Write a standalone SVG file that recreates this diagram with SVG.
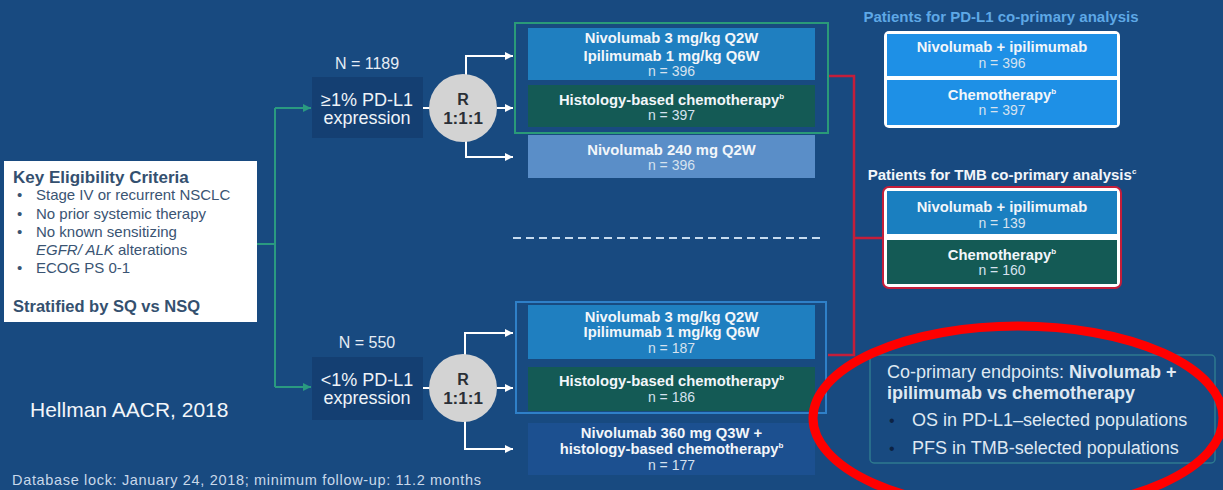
<svg xmlns="http://www.w3.org/2000/svg" width="1223" height="490" viewBox="0 0 1223 490">
<defs>
<style>
.bg{fill:#184a80}
.lt{font-family:"Liberation Sans",Arial,sans-serif}
.crit{font-family:"Liberation Sans",Arial,sans-serif;fill:#3a5473;font-size:15px}
.critb{font-family:"Liberation Sans",Arial,sans-serif;fill:#34506f;font-weight:bold}
.bx{font-family:"Liberation Sans",Arial,sans-serif;fill:#f2f6fa;font-size:14.8px;font-weight:bold;text-anchor:middle}
.bn{font-family:"Liberation Sans",Arial,sans-serif;fill:#d6e2ef;font-size:14px;text-anchor:middle}
.rb{font-family:"Liberation Sans",Arial,sans-serif;fill:#2a2f36;font-weight:bold;text-anchor:middle}
.wl{fill:none;stroke:#ffffff;stroke-width:2}
.gl{fill:none;stroke:#2a9a80;stroke-width:2}
.rl{fill:none;stroke:#c41e3a;stroke-width:2.5}
.pd{fill:#143f72}
.sup{font-size:8px}
</style>
<marker id="aw" viewBox="0 0 8 8" refX="8" refY="4" markerWidth="8" markerHeight="8" markerUnits="userSpaceOnUse" orient="auto">
<path d="M0,0 L8,4 L0,8 z" fill="#ffffff"/>
</marker>
<marker id="ag" viewBox="0 0 8 8" refX="8" refY="4" markerWidth="8" markerHeight="8" markerUnits="userSpaceOnUse" orient="auto">
<path d="M0,0 L8,4 L0,8 z" fill="#2a9a80"/>
</marker>
</defs>
<rect class="bg" x="0" y="0" width="1223" height="490"/>

<g id="connectors">
<path class="gl" d="M257,244 H275"/>
<path class="gl" d="M275,108 V387"/>
<path class="gl" d="M275,108 H311" marker-end="url(#ag)"/>
<path class="gl" d="M275,387 H311" marker-end="url(#ag)"/>
<path class="wl" d="M423,108 H430"/>
<path class="wl" d="M423,388 H430"/>
<path class="wl" d="M466,75 V56 H513" marker-end="url(#aw)"/>
<path class="wl" d="M497,108 H513" marker-end="url(#aw)"/>
<path class="wl" d="M466,141 V157 H513" marker-end="url(#aw)"/>
<path class="wl" d="M465,355 V333 H513" marker-end="url(#aw)"/>
<path class="wl" d="M497,388 H513" marker-end="url(#aw)"/>
<path class="wl" d="M465,421 V449 H513" marker-end="url(#aw)"/>
<path class="rl" d="M828,76 H854 V355 H828"/>
<path class="rl" d="M854,238 H883"/>
<path d="M513,238 H823" fill="none" stroke="#c6dbef" stroke-width="2" stroke-dasharray="8 5"/>
</g>

<g id="criteria">
<rect x="4" y="161" width="253" height="161" fill="#ffffff"/>
<text class="critb" x="13" y="183" font-size="17">Key Eligibility Criteria</text>
<text class="crit" x="17" y="200">•</text>
<text class="crit" x="36" y="200">Stage IV or recurrent NSCLC</text>
<text class="crit" x="17" y="219">•</text>
<text class="crit" x="36" y="219">No prior systemic therapy</text>
<text class="crit" x="17" y="237">•</text>
<text class="crit" x="36" y="237">No known sensitizing</text>
<text class="crit" x="36" y="255"><tspan font-style="italic">EGFR/ ALK</tspan> alterations</text>
<text class="crit" x="17" y="273">•</text>
<text class="crit" x="36" y="273">ECOG PS 0-1</text>
<text class="critb" x="13" y="312" font-size="16.5">Stratified by SQ vs NSQ</text>
</g>

<g id="pdl1-high">
<text class="lt" x="367" y="69" font-size="16" fill="#e6edf5" text-anchor="middle">N = 1189</text>
<rect class="pd" x="312" y="77" width="111" height="61"/>
<text class="lt" x="367" y="106" font-size="18" fill="#eef3f8" text-anchor="middle">≥1% PD-L1</text>
<text class="lt" x="367" y="124" font-size="18" fill="#eef3f8" text-anchor="middle">expression</text>
</g>

<g id="rand-high">
<circle cx="463" cy="108" r="34" fill="#d3d3d3"/>
<text class="rb" x="463" y="105" font-size="16">R</text>
<text class="rb" x="463" y="124" font-size="17">1:1:1</text>
</g>

<g id="pdl1-low">
<text class="lt" x="367" y="348" font-size="16" fill="#e6edf5" text-anchor="middle">N = 550</text>
<rect class="pd" x="312" y="357" width="111" height="63"/>
<text class="lt" x="367" y="386" font-size="18" fill="#eef3f8" text-anchor="middle">&lt;1% PD-L1</text>
<text class="lt" x="367" y="404" font-size="18" fill="#eef3f8" text-anchor="middle">expression</text>
</g>

<g id="rand-low">
<circle cx="463" cy="388" r="34" fill="#d3d3d3"/>
<text class="rb" x="463" y="385" font-size="16">R</text>
<text class="rb" x="463" y="404" font-size="17">1:1:1</text>
</g>

<g id="group-high">
<rect x="515" y="23" width="313" height="110" fill="none" stroke="#2a9a78" stroke-width="2"/>
</g>
<g id="arm-high-nivoipi">
<rect x="528" y="28" width="287" height="52" fill="#1f7fc0"/>
<text class="bx" x="671.5" y="43">Nivolumab 3 mg/kg Q2W</text>
<text class="bx" x="671.5" y="61">Ipilimumab 1 mg/kg Q6W</text>
<text class="bn" x="671.5" y="76">n = 396</text>
</g>
<g id="arm-high-chemo">
<rect x="528" y="85" width="287" height="42" fill="#145a55"/>
<text class="bx" x="671.5" y="105">Histology-based chemotherapy<tspan class="sup" dy="-6">b</tspan></text>
<text class="bn" x="671.5" y="120">n = 397</text>
</g>
<g id="arm-high-nivo">
<rect x="528" y="135" width="287" height="43" fill="#5a8ec8"/>
<text class="bx" x="671.5" y="155">Nivolumab 240 mg Q2W</text>
<text class="bn" x="671.5" y="170">n = 396</text>
</g>

<g id="group-low">
<rect x="516" y="302" width="310" height="111" fill="none" stroke="#2f80c8" stroke-width="2"/>
</g>
<g id="arm-low-nivoipi">
<rect x="528" y="305" width="287" height="54" fill="#1f7fc0"/>
<text class="bx" x="671.5" y="322">Nivolumab 3 mg/kg Q2W</text>
<text class="bx" x="671.5" y="337">Ipilimumab 1 mg/kg Q6W</text>
<text class="bn" x="671.5" y="353">n = 187</text>
</g>
<g id="arm-low-chemo">
<rect x="528" y="367" width="287" height="44" fill="#145a55"/>
<text class="bx" x="671.5" y="386">Histology-based chemotherapy<tspan class="sup" dy="-6">b</tspan></text>
<text class="bn" x="671.5" y="402">n = 186</text>
</g>
<g id="arm-low-nivochemo">
<rect x="528" y="423" width="287" height="52" fill="#1c5090"/>
<text class="bx" x="671.5" y="438">Nivolumab 360 mg Q3W +</text>
<text class="bx" x="671.5" y="454">histology-based chemotherapy<tspan class="sup" dy="-6">b</tspan></text>
<text class="bn" x="671.5" y="470">n = 177</text>
</g>

<g id="pdl1-analysis">
<text class="lt" x="1001" y="22" font-size="15" font-weight="bold" fill="#5ea8e6" text-anchor="middle">Patients for PD-L1 co-primary analysis</text>
<rect x="884" y="31" width="236" height="97" rx="5" fill="#ffffff"/>
<rect x="887" y="34" width="230" height="42" fill="#1e90e6"/>
<rect x="887" y="80" width="230" height="45" fill="#1e90e6"/>
<text class="bx" x="1002" y="52" font-size="15.8">Nivolumab + ipilimumab</text>
<text class="bn" x="1002" y="68">n = 396</text>
<text class="bx" x="1002" y="100" font-size="15.8">Chemotherapy<tspan class="sup" dy="-6">b</tspan></text>
<text class="bn" x="1002" y="115">n = 397</text>
</g>

<g id="tmb-analysis">
<text class="lt" x="1002" y="180" font-size="15" font-weight="bold" fill="#f2f6fa" text-anchor="middle">Patients for TMB co-primary analysis<tspan class="sup" dy="-6">c</tspan></text>
<rect x="883" y="187" width="238" height="101" rx="6" fill="#ffffff" stroke="#c41e3a" stroke-width="2"/>
<rect x="887" y="191" width="230" height="43" fill="#1a7fc0"/>
<rect x="887" y="240" width="230" height="44" fill="#145a55"/>
<text class="bx" x="1002" y="212" font-size="15.8">Nivolumab + ipilimumab</text>
<text class="bn" x="1002" y="228">n = 139</text>
<text class="bx" x="1002" y="260" font-size="15.8">Chemotherapy<tspan class="sup" dy="-6">b</tspan></text>
<text class="bn" x="1002" y="275">n = 160</text>
</g>

<g id="endpoints">
<rect x="870" y="355" width="345" height="108" rx="4" fill="none" stroke="#2e7a8e" stroke-width="1.5"/>
<text class="lt" x="887" y="378" font-size="18" fill="#dfe8f2">Co-primary endpoints: <tspan font-weight="bold">Nivolumab +</tspan></text>
<text class="lt" x="887" y="399" font-size="18" fill="#dfe8f2" font-weight="bold">ipilimumab vs chemotherapy</text>
<text class="lt" x="889" y="426" font-size="16" fill="#0c2344">•</text>
<text class="lt" x="912" y="426" font-size="18" fill="#dfe8f2">OS in PD-L1–selected populations</text>
<text class="lt" x="889" y="454" font-size="16" fill="#0c2344">•</text>
<text class="lt" x="912" y="454" font-size="18" fill="#dfe8f2">PFS in TMB-selected populations</text>
</g>

<ellipse cx="1018" cy="418" rx="205" ry="92" fill="none" stroke="#ff0000" stroke-width="9"/>

<text class="lt" x="30" y="417" font-size="21" fill="#f2f6fa">Hellman AACR, 2018</text>
<text class="lt" x="12" y="485" font-size="14.5" fill="#c8d8ea" textLength="469">Database lock: January 24, 2018; minimum follow-up: 11.2 months</text>
</svg>
